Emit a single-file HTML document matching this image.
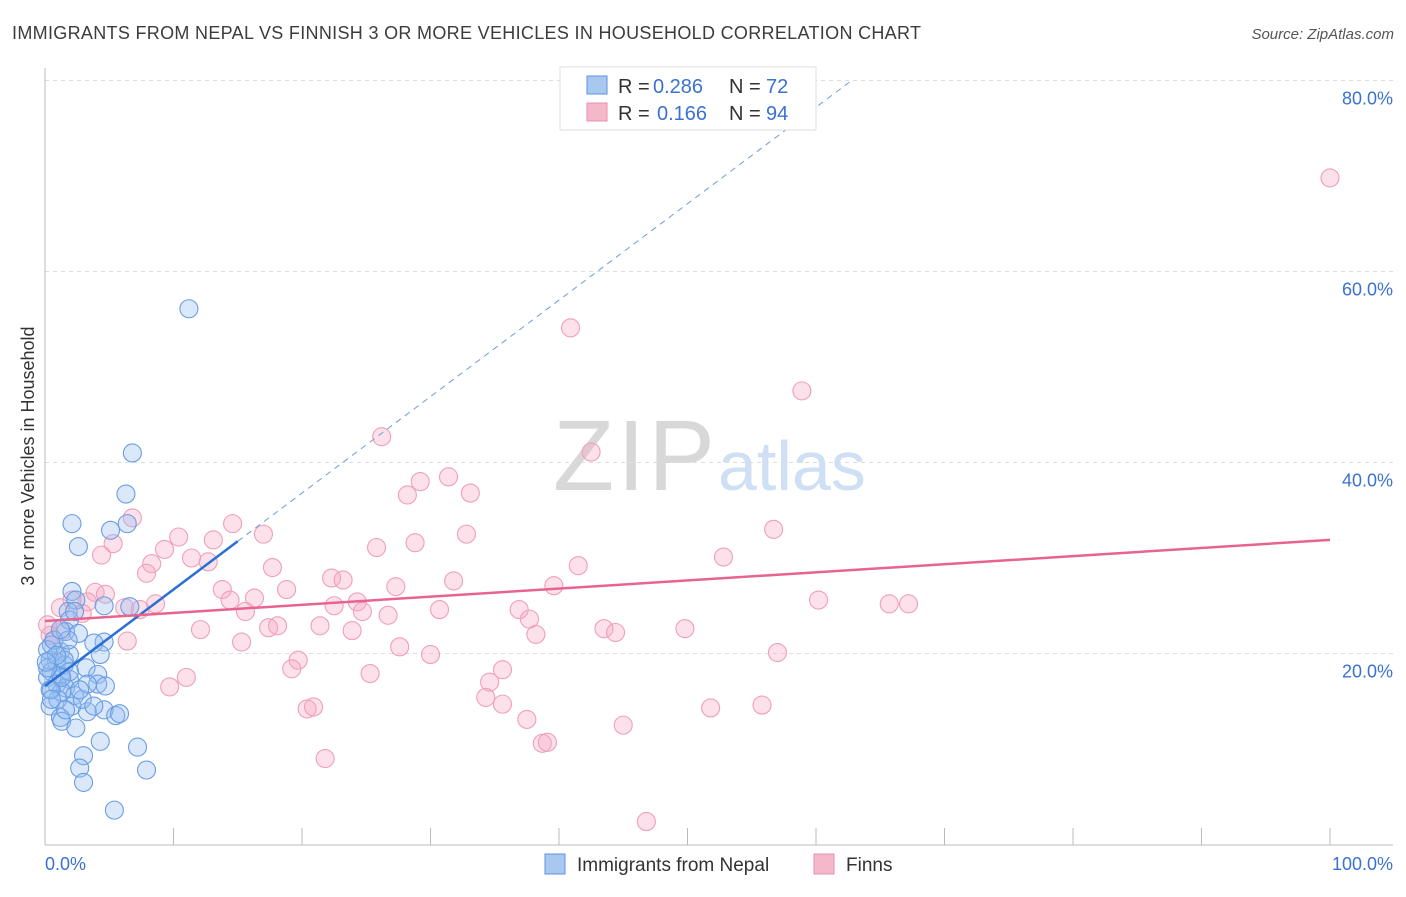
<!DOCTYPE html>
<html><head><meta charset="utf-8"><style>
body{margin:0;background:#fff;font-family:"Liberation Sans",sans-serif;}
svg text{font-family:"Liberation Sans",sans-serif;}
</style></head><body>
<svg id="chart" width="1406" height="892" viewBox="0 0 1406 892">
<text x="12" y="39" font-size="18" fill="#3c3c3c" textLength="909">IMMIGRANTS FROM NEPAL VS FINNISH 3 OR MORE VEHICLES IN HOUSEHOLD CORRELATION CHART</text>
<text x="1394" y="39" font-size="15" fill="#555" text-anchor="end" font-style="italic">Source: ZipAtlas.com</text>
<g>
<text x="553" y="490" font-size="100" fill="#d8d8d8" font-family="Liberation Serif" textLength="162">ZIP</text>
<text x="718" y="490" font-size="70" fill="#cfe0f5">atlas</text>
</g>
<g id="grid"></g>
<g id="axes"></g>
<g id="pts"></g>
<g id="trend"></g>
<text transform="translate(34,456) rotate(-90)" font-size="18" fill="#333" text-anchor="middle">3 or more Vehicles in Household</text>
<g>
<rect x="560" y="67" width="256" height="63" fill="#fff" stroke="#ddd"/>
<rect x="587" y="76" width="20" height="18" fill="#a9c8f0" stroke="#5b93e0"/>
<rect x="587" y="103" width="20" height="18" fill="#f5b8cb" stroke="#e890aa"/>
<text x="618" y="93" font-size="20" fill="#333">R =</text>
<text x="653" y="93" font-size="20" fill="#3a72d0">0.286</text>
<text x="729" y="93" font-size="20" fill="#333">N =</text>
<text x="766" y="93" font-size="20" fill="#3a72d0">72</text>
<text x="618" y="120" font-size="20" fill="#333">R =</text>
<text x="657" y="120" font-size="20" fill="#3a72d0">0.166</text>
<text x="729" y="120" font-size="20" fill="#333">N =</text>
<text x="766" y="120" font-size="20" fill="#3a72d0">94</text>
</g>
<g>
<rect x="545" y="854" width="20" height="20" fill="#a9c8f0" stroke="#5b93e0"/>
<text x="577" y="871" font-size="19" fill="#333">Immigrants from Nepal</text>
<rect x="814" y="854" width="20" height="20" fill="#f5b8cb" stroke="#e890aa"/>
<text x="846" y="871" font-size="19" fill="#333">Finns</text>
</g>
</svg>
<script>
const yTicks=[20,40,60,80];
const yTickLabels=["20.0%","40.0%","60.0%","80.0%"];
const xTicks=[0,10,20,30,40,50,60,70,80,90,100];
const blueX=[11.2,6.8,6.3,2.1,5.1,6.4,2.6,2.1,2.4,1.8,4.6,6.6,1.9,1.6,2.6,4.6,3.8,0.5,1.2,1.9,0.4,0.9,1.5,3.2,0.5,1.2,0.2,1.9,4.1,0.9,1.6,4.1,4.7,0.5,1.3,2.3,0.4,2.1,3.3,4.6,5.5,1.2,1.3,2.4,4.3,3.0,2.7,7.2,7.9,3.0,5.4,0.2,0.7,0.2,1.0,1.6,5.8,2.9,3.8,1.5,0.9,0.1,1.8,0.4,4.3,3.3,1.9,1.2,2.3,0.5,1.3,2.7];
const blueY=[56.1,41.0,36.7,33.6,32.9,33.6,31.2,26.5,25.6,24.4,25.0,24.9,23.5,22.3,22.1,21.2,21.1,20.9,20.2,19.9,19.3,19.1,18.8,18.5,18.1,17.7,17.5,17.3,17.8,16.8,16.4,16.8,16.6,16.2,16.0,15.6,14.5,14.5,13.9,14.1,13.5,13.3,12.9,12.2,10.8,9.3,8.0,10.2,7.8,6.5,3.6,20.4,21.4,18.5,15.2,14.1,13.7,15.2,14.5,19.3,19.8,19.1,21.4,16.2,19.9,16.8,18.1,22.5,24.4,15.2,17.5,16.2];
const pinkX=[100,40.9,58.9,26.2,42.5,31.4,29.2,28.2,33.1,6.8,14.6,32.8,56.7,17.0,5.3,10.4,4.4,9.3,25.8,28.8,13.1,52.8,8.3,11.4,12.7,41.5,7.9,17.7,22.3,23.2,27.3,31.8,39.6,13.8,18.8,3.9,4.7,3.3,14.4,16.3,8.6,24.3,22.5,60.2,65.7,67.2,6.2,7.4,15.6,24.7,26.7,30.7,36.9,37.7,2.9,1.2,2.1,12.1,21.4,17.4,18.1,23.9,38.2,43.5,44.4,49.8,0.4,1.3,6.4,15.3,27.6,30.0,57.0,19.7,19.2,35.6,11.0,9.7,25.3,34.6,20.4,20.9,34.3,35.6,51.8,55.8,37.5,45.0,38.7,39.1,21.8,46.8,0.2,0.7];
const pinkY=[69.8,54.1,47.5,42.7,41.1,38.5,38.0,36.6,36.8,34.2,33.6,32.5,33.0,32.5,31.5,32.2,30.3,30.9,31.1,31.6,31.9,30.1,29.4,30.0,29.6,29.2,28.4,29.0,27.9,27.7,27.0,27.6,27.1,26.7,26.7,26.4,26.2,25.4,25.6,25.8,25.2,25.4,25.0,25.6,25.2,25.2,24.8,24.6,24.4,24.4,24.0,24.6,24.6,23.6,24.2,24.8,25.6,22.5,22.9,22.7,22.9,22.4,22.0,22.6,22.2,22.6,21.9,22.3,21.3,21.2,20.7,19.9,20.1,19.3,18.4,18.3,17.5,16.5,17.9,17.0,14.2,14.4,15.4,14.7,14.3,14.6,13.1,12.5,10.6,10.7,9.0,2.4,23.0,21.4];
const blueTrend=[16.6,1.01];
const pinkTrend=[23.4,0.085];
const NS="http://www.w3.org/2000/svg";
const xs=v=>45+12.85*v, ys=v=>844.5-9.55*v;
function mk(tag,attrs,parent){const e=document.createElementNS(NS,tag);for(const k in attrs)e.setAttribute(k,attrs[k]);parent.appendChild(e);return e;}
const grid=document.getElementById('grid'),axes=document.getElementById('axes');
yTicks.forEach((t,i)=>{
 const l=mk('line',{x1:45,x2:1393,y1:ys(t),y2:ys(t),stroke:'#ddd','stroke-dasharray':'4,4'},grid);
 
 
 const tx=mk('text',{x:1393,y:ys(t)+24,'font-size':18,fill:'#3a72d0','text-anchor':'end'},axes);
 tx.textContent=yTickLabels[i];
 
 
});
mk('line',{x1:45,x2:45,y1:68,y2:845,stroke:'#bbb'},axes);
mk('line',{x1:45,x2:1393,y1:845,y2:845,stroke:'#bbb'},axes);
xTicks.forEach(t=>{const l=mk('line',{x1:xs(t),x2:xs(t),y1:828,y2:845,stroke:'#bbb'},axes);
 
 });
let a=mk('text',{x:45,y:870,'font-size':18,fill:'#3a72d0'},axes);a.textContent='0.0%';

a=mk('text',{x:1393,y:870,'font-size':18,fill:'#3a72d0','text-anchor':'end'},axes);a.textContent='100.0%';

const pts=document.getElementById('pts');
pinkX.forEach((x,i)=>{const c=mk('circle',{cx:xs(x),cy:ys(pinkY[i]),r:9,fill:'rgba(245,168,195,0.35)',stroke:'#ef9fb8','stroke-width':1.1},pts);
 
 });
blueX.forEach((x,i)=>{const c=mk('circle',{cx:xs(x),cy:ys(blueY[i]),r:9,fill:'rgba(150,190,240,0.35)',stroke:'#6a9de3','stroke-width':1.1},pts);
 
 });
const tr=document.getElementById('trend');
let L=mk('line',{x1:xs(0),y1:ys(blueTrend[0]),x2:xs(15),y2:ys(blueTrend[0]+15*blueTrend[1]),stroke:'#2a6fd6','stroke-width':2.5},tr);


L=mk('line',{x1:xs(15),y1:ys(blueTrend[0]+15*blueTrend[1]),x2:xs(62.6),y2:ys(blueTrend[0]+62.6*blueTrend[1]),stroke:'#6a9be0','stroke-width':1,'stroke-dasharray':'6,5'},tr);


L=mk('line',{x1:xs(0),y1:ys(pinkTrend[0]),x2:xs(100),y2:ys(pinkTrend[0]+100*pinkTrend[1]),stroke:'#e8648f','stroke-width':2.5},tr);


</script>
</body></html>
